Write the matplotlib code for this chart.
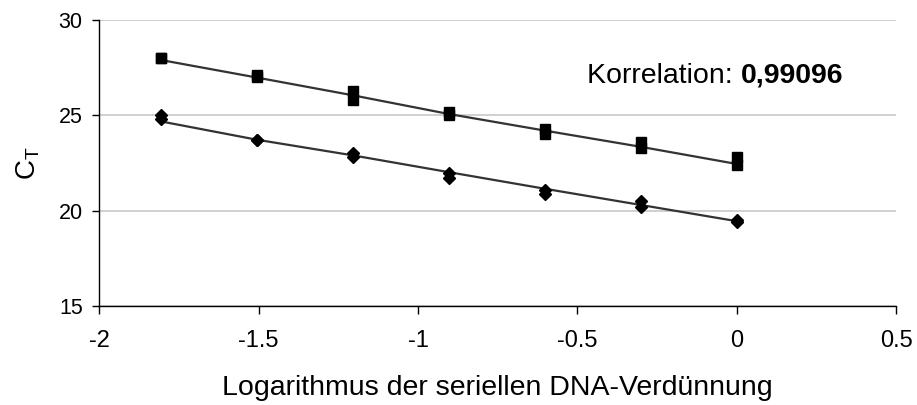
import numpy as np
import matplotlib
matplotlib.use("Agg")
import matplotlib.pyplot as plt

plt.rcParams['font.family'] = ['Liberation Sans', 'DejaVu Sans']

# log10 of serial dilution (1:2 steps), two replicates each
log_dil = [-1.806, -1.505, -1.204, -0.903, -0.602, -0.301, 0.0]

# upper series (squares), replicates a/b
ct_sq_a = [28.0, 27.1, 26.3, 25.2, 24.3, 23.6, 22.8]
ct_sq_b = [28.0, 27.0, 25.8, 25.0, 24.0, 23.3, 22.4]
# lower series (diamonds), replicates a/b
ct_di_a = [25.0, 23.7, 23.0, 22.0, 21.1, 20.5, 19.5]
ct_di_b = [24.8, 23.7, 22.8, 21.7, 20.9, 20.2, 19.4]

# trend lines
line_sq = [27.9, 26.98, 26.05, 25.07, 24.2, 23.35, 22.45]
line_di = [24.68, 23.72, 22.9, 22.02, 21.15, 20.3, 19.45]

corr_label = "Korrelation: "
corr_value = "0,99096"

xticks = [-2, -1.5, -1, -0.5, 0, 0.5]
xticklabels = ['-2', '-1.5', '-1', '-0.5', '0', '0.5']
yticks = [15, 20, 25, 30]

fig = plt.figure(figsize=(9.17, 4.05), dpi=100)
ax = fig.add_axes([0.1083, 0.2444, 0.8688, 0.7062])

ax.plot(log_dil, line_sq, color='#333333', lw=1.6, zorder=2)
ax.plot(log_dil, line_di, color='#333333', lw=1.6, zorder=2)

x2 = log_dil + log_dil
ax.plot(x2, ct_sq_a + ct_sq_b, ls='none', marker='s', ms=6.5,
        color='black', zorder=3)
ax.plot(x2, ct_di_a + ct_di_b, ls='none', marker='D', ms=6,
        color='black', zorder=3)

ax.set_xlim(-2, 0.5)
ax.set_ylim(15, 30)
ax.set_xticks(xticks)
ax.set_xticklabels(xticklabels)
ax.set_yticks(yticks)
ax.yaxis.grid(True, color='#c8c8c8', lw=1.2)
ax.set_axisbelow(True)

for s in ['top', 'right']:
    ax.spines[s].set_visible(False)
ax.spines['left'].set_linewidth(1.0)
ax.spines['bottom'].set_linewidth(1.0)
ax.tick_params(axis='x', direction='out', length=6, width=1.0,
               labelsize=17, pad=11)
ax.tick_params(axis='y', direction='out', length=5, width=1.0,
               labelsize=15.5, pad=7)

ax.set_xlabel("Logarithmus der seriellen DNA-Verdünnung", fontsize=20.5,
              labelpad=17)
ax.set_ylabel(r"C$_\mathregular{T}$", fontsize=20, labelpad=12)

t1 = ax.text(-0.47, 26.7, corr_label, fontsize=20.5, va='baseline', ha='left')
fig.canvas.draw()
bb = t1.get_window_extent()
x_end = ax.transData.inverted().transform((bb.x1, bb.y0))[0]
ax.text(x_end, 26.7, corr_value, fontsize=20.5, fontweight='bold',
        va='baseline', ha='left')

fig.savefig("out.png", dpi=100)
